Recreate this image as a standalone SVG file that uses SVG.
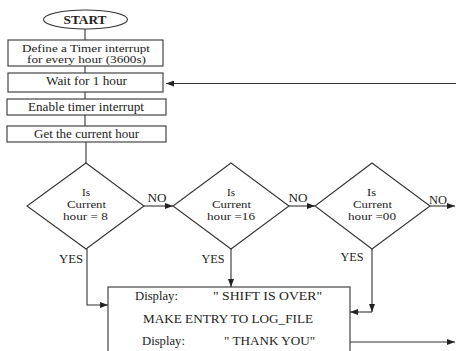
<svg xmlns="http://www.w3.org/2000/svg" width="456" height="351" viewBox="0 0 456 351">
<defs>
<marker id="arr" markerWidth="8" markerHeight="6" refX="8" refY="3" orient="auto" markerUnits="userSpaceOnUse">
<path d="M0,0 L8,3 L0,6 z" fill="#222"/>
</marker>
<style>
.shape{fill:#fff;stroke:#333;stroke-width:1.1}
.ln{fill:none;stroke:#333;stroke-width:1.1}
.t{font-family:'Liberation Serif','Times New Roman',serif;font-size:11.5px;fill:#222;text-anchor:middle}
.d{font-size:10.5px}
.sm{font-size:9.5px}
.s{text-anchor:start}
.b{font-weight:bold}
</style>
</defs>
<rect width="456" height="351" fill="#fff"/>
<g id="connectors">
<line class="ln" x1="85" y1="29" x2="85" y2="40"/>
<line class="ln" x1="85" y1="66" x2="85" y2="73"/>
<line class="ln" x1="85" y1="92" x2="85" y2="99"/>
<line class="ln" x1="85" y1="115" x2="85" y2="126"/>
<line class="ln" x1="86" y1="142" x2="86" y2="163"/>
<line class="ln" x1="456" y1="83.5" x2="166" y2="83.5" marker-end="url(#arr)"/>
<line class="ln" x1="144" y1="206" x2="173" y2="206" marker-end="url(#arr)"/>
<line class="ln" x1="289" y1="206" x2="315" y2="206" marker-end="url(#arr)"/>
<line class="ln" x1="430" y1="206" x2="455" y2="206" marker-end="url(#arr)"/>
<polyline class="ln" points="87,249 87,305 108,305" marker-end="url(#arr)"/>
<line class="ln" x1="231" y1="249" x2="231" y2="287" marker-end="url(#arr)"/>
<line class="ln" x1="372" y1="249" x2="372" y2="312" marker-end="url(#arr)"/>
<line class="ln" x1="372" y1="312" x2="350" y2="312" marker-end="url(#arr)"/>
<line class="ln" x1="350" y1="342" x2="455" y2="342" marker-end="url(#arr)"/>
<text class="t" x="157" y="202" textLength="19" lengthAdjust="spacingAndGlyphs">NO</text>
<text class="t" x="298" y="202" textLength="19" lengthAdjust="spacingAndGlyphs">NO</text>
<text class="t" x="438" y="204" textLength="18" lengthAdjust="spacingAndGlyphs">NO</text>
<text class="t" x="71" y="263" textLength="24" lengthAdjust="spacingAndGlyphs">YES</text>
<text class="t" x="213" y="263" textLength="23" lengthAdjust="spacingAndGlyphs">YES</text>
<text class="t" x="352" y="261" textLength="23" lengthAdjust="spacingAndGlyphs">YES</text>
</g>
<g id="start">
<ellipse class="shape" cx="85.5" cy="19.5" rx="42" ry="9.5"/>
<text class="t b" x="85" y="23.5" textLength="43" lengthAdjust="spacingAndGlyphs">START</text>
</g>
<g id="define">
<rect class="shape" x="8" y="40" width="155" height="26"/>
<text class="t sm" x="86" y="52" textLength="128" lengthAdjust="spacingAndGlyphs">Define a Timer interrupt</text>
<text class="t sm" x="86.5" y="63" textLength="119" lengthAdjust="spacingAndGlyphs">for every hour (3600s)</text>
</g>
<g id="wait">
<rect class="shape" x="8" y="73" width="155" height="19"/>
<text class="t" x="86.5" y="85" textLength="81" lengthAdjust="spacingAndGlyphs">Wait for 1 hour</text>
</g>
<g id="enable">
<rect class="shape" x="7" y="99" width="159" height="16"/>
<text class="t" x="86" y="111" textLength="116" lengthAdjust="spacingAndGlyphs">Enable timer interrupt</text>
</g>
<g id="get">
<rect class="shape" x="7" y="126" width="159" height="16"/>
<text class="t" x="86.5" y="137.5" textLength="105" lengthAdjust="spacingAndGlyphs">Get the current hour</text>
</g>
<g id="d1">
<polygon class="shape" points="86,163 144,206 86,249 27,206"/>
<text class="t d" x="86" y="195.5" textLength="8" lengthAdjust="spacingAndGlyphs">Is</text>
<text class="t d" x="86.5" y="207.5" textLength="39" lengthAdjust="spacingAndGlyphs">Current</text>
<text class="t d" x="85.5" y="219.5" textLength="45" lengthAdjust="spacingAndGlyphs">hour = 8</text>
</g>
<g id="d2">
<polygon class="shape" points="231,163 289,206 231,249 173,206"/>
<text class="t d" x="231" y="195.5" textLength="8" lengthAdjust="spacingAndGlyphs">Is</text>
<text class="t d" x="231.5" y="207.5" textLength="39" lengthAdjust="spacingAndGlyphs">Current</text>
<text class="t d" x="231" y="219.5" textLength="48" lengthAdjust="spacingAndGlyphs">hour =16</text>
</g>
<g id="d3">
<polygon class="shape" points="372,163 430,206 372,249 315,206"/>
<text class="t d" x="371.5" y="195.5" textLength="9" lengthAdjust="spacingAndGlyphs">Is</text>
<text class="t d" x="372.5" y="207.5" textLength="39" lengthAdjust="spacingAndGlyphs">Current</text>
<text class="t d" x="372" y="219.5" textLength="48" lengthAdjust="spacingAndGlyphs">hour =00</text>
</g>
<g id="output">
<rect class="shape" x="108" y="287" width="242" height="70"/>
<text class="t s" x="135" y="300" textLength="43" lengthAdjust="spacingAndGlyphs">Display:</text>
<text class="t s" x="213" y="300" textLength="109" lengthAdjust="spacingAndGlyphs">" SHIFT IS OVER"</text>
<text class="t s" x="143" y="323" textLength="170" lengthAdjust="spacingAndGlyphs">MAKE ENTRY TO LOG_FILE</text>
<text class="t s" x="142" y="345" textLength="43" lengthAdjust="spacingAndGlyphs">Display:</text>
<text class="t s" x="224" y="345" textLength="91" lengthAdjust="spacingAndGlyphs">" THANK YOU"</text>
</g>
</svg>
